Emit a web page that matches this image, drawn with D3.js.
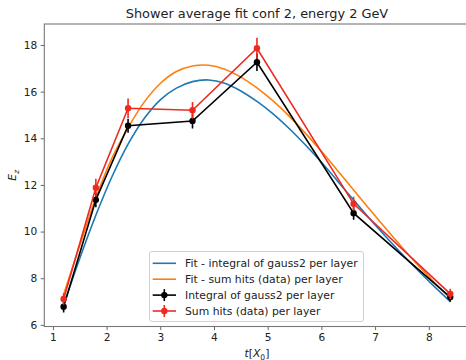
<!DOCTYPE html>
<html><head><meta charset="utf-8">
<script src="https://cdn.jsdelivr.net/npm/d3@7"></script>
<style>body{margin:0;background:#fff}svg{display:block;font-family:"DejaVu Sans",sans-serif}</style>
</head><body><svg id="c" width="466" height="360"></svg>
<script>
// ---- data ----
const layerT   = [1.2, 1.8, 2.4, 3.6, 4.8, 6.6, 8.4];
const gaussE   = [6.78, 11.36, 14.54, 14.74, 17.26, 10.79, 7.19];
const gaussErr = [0.25, 0.32, 0.30, 0.32, 0.38, 0.28, 0.20];
const sumE     = [7.11, 11.88, 15.29, 15.20, 17.86, 11.19, 7.33];
const sumErr   = [0.25, 0.38, 0.42, 0.36, 0.45, 0.30, 0.22];
const fitT     = [1.2,1.5,1.8,2.1,2.4,2.7,3.0,3.3,3.6,3.9,4.2,4.5,4.8,5.1,5.4,5.7,6.0,6.3,6.6,6.9,7.2,7.5,7.8,8.1,8.4];
const fitGauss = [6.85,8.85,10.7,12.35,13.75,14.85,15.65,16.15,16.43,16.5,16.36,16.03,15.58,15.05,14.42,13.72,12.97,12.17,11.35,10.55,9.78,9.04,8.33,7.65,7.0];
const fitSum   = [7.3,9.4,11.45,13.15,14.45,15.55,16.35,16.86,17.1,17.13,16.96,16.62,16.16,15.6,14.95,14.22,13.44,12.62,11.78,10.95,10.13,9.33,8.56,7.83,7.13];
const xTicks   = [1,2,3,4,5,6,7,8];
const yTicks   = [6,8,10,12,14,16,18];
const titleText = "Shower average fit conf 2, energy 2 GeV";
const legendLabels = ["Fit - integral of gauss2 per layer","Fit - sum hits (data) per layer","Integral of gauss2 per layer","Sum hits (data) per layer"];

// ---- layout ----
const L = 44.3, R = 469.6, T = 24, B = 326.5;
const svg = d3.select("#c");
const x = d3.scaleLinear().domain([0.84, 8.76]).range([L, R]);
const y = d3.scaleLinear().domain([5.93, 18.9]).range([B, T]);

const C_BLUE = "#1f77b4", C_ORANGE = "#ff7f0e", C_RED = "#ee2a20", C_BLACK = "#000";

// axes
const xAxis = svg.append("g").attr("transform", `translate(0,${B})`)
  .call(d3.axisBottom(x).tickValues(xTicks).tickFormat(d3.format("d")).tickSize(3.6).tickPadding(3.5));
const yAxis = svg.append("g").attr("transform", `translate(${L},0)`)
  .call(d3.axisLeft(y).tickValues(yTicks).tickFormat(d3.format("d")).tickSize(3.6).tickPadding(3.5));
[xAxis, yAxis].forEach(g => {
  g.select(".domain").remove();
  g.selectAll("line").attr("stroke", "#555").attr("stroke-width", 0.9);
  g.selectAll("text").attr("font-size", 10.6).attr("fill", "#222").attr("font-family", "DejaVu Sans");
});
// spines
svg.append("rect").attr("x", L).attr("y", T).attr("width", R - L).attr("height", B - T)
  .attr("fill", "none").attr("stroke", "#777").attr("stroke-width", 1.1);

// clip
svg.append("clipPath").attr("id", "pc").append("rect").attr("x", L).attr("y", T).attr("width", R - L).attr("height", B - T);
const plot = svg.append("g").attr("clip-path", "url(#pc)");

const line = d3.line().x(d => x(d[0])).y(d => y(d[1])).curve(d3.curveCatmullRom);
plot.append("path").attr("d", line(fitT.map((t, i) => [t, fitGauss[i]])))
  .attr("fill", "none").attr("stroke", C_BLUE).attr("stroke-width", 1.6);
plot.append("path").attr("d", line(fitT.map((t, i) => [t, fitSum[i]])))
  .attr("fill", "none").attr("stroke", C_ORANGE).attr("stroke-width", 1.6);

function errSeries(vals, errs, color) {
  const g = plot.append("g");
  const lin = d3.line().x(d => x(d[0])).y(d => y(d[1]));
  g.append("path").attr("d", lin(layerT.map((t, i) => [t, vals[i]])))
    .attr("fill", "none").attr("stroke", color).attr("stroke-width", 1.6);
  g.selectAll("line.e").data(layerT).join("line")
    .attr("x1", d => x(d)).attr("x2", d => x(d))
    .attr("y1", (d, i) => y(vals[i] - errs[i])).attr("y2", (d, i) => y(vals[i] + errs[i]))
    .attr("stroke", color).attr("stroke-width", 1.6);
  g.selectAll("circle").data(layerT).join("circle")
    .attr("cx", d => x(d)).attr("cy", (d, i) => y(vals[i])).attr("r", 3.2).attr("fill", color);
}
errSeries(gaussE, gaussErr, C_BLACK);
errSeries(sumE, sumErr, C_RED);

// title
svg.append("text").attr("x", (L + R) / 2).attr("y", 18).attr("text-anchor", "middle")
  .attr("font-size", 12.9).attr("fill", "#222").text(titleText);

// axis labels
const xl = svg.append("text").attr("x", (L + R) / 2).attr("y", 357).attr("text-anchor", "middle")
  .attr("font-size", 10.8).attr("fill", "#222");
xl.append("tspan").attr("font-style", "italic").text("t");
xl.append("tspan").text("[");
xl.append("tspan").attr("font-style", "italic").text("X");
xl.append("tspan").attr("font-size", 7.6).attr("dy", 2.5).text("0");
xl.append("tspan").attr("dy", -2.5).text("]");

const yl = svg.append("text").attr("transform", `translate(16,${(T + B) / 2}) rotate(-90)`)
  .attr("text-anchor", "middle").attr("font-size", 10.8).attr("fill", "#222");
yl.append("tspan").attr("font-style", "italic").text("E");
yl.append("tspan").attr("font-style", "italic").attr("font-size", 7.6).attr("dy", 2.5).text("z");

// legend
const lg = svg.append("g");
lg.append("rect").attr("x", 149.5).attr("y", 251.5).attr("width", 214).attr("height", 70).attr("rx", 2.5)
  .attr("fill", "#fff").attr("fill-opacity", 0.8).attr("stroke", "#d0d0d0").attr("stroke-width", 1);
const lc = [C_BLUE, C_ORANGE, C_BLACK, C_RED];
legendLabels.forEach((lab, i) => {
  const yy = 263.3 + i * 15.9;
  lg.append("line").attr("x1", 152.7).attr("x2", 176).attr("y1", yy).attr("y2", yy)
    .attr("stroke", lc[i]).attr("stroke-width", 1.6);
  if (i >= 2) {
    lg.append("line").attr("x1", 164.3).attr("x2", 164.3).attr("y1", yy - 6).attr("y2", yy + 6)
      .attr("stroke", lc[i]).attr("stroke-width", 1.6);
    lg.append("circle").attr("cx", 164.3).attr("cy", yy).attr("r", 3.2).attr("fill", lc[i]);
  }
  lg.append("text").attr("x", 185).attr("y", yy).attr("dy", "0.35em")
    .attr("font-size", 10.8).attr("fill", "#222").text(lab);
});
</script></body></html>
